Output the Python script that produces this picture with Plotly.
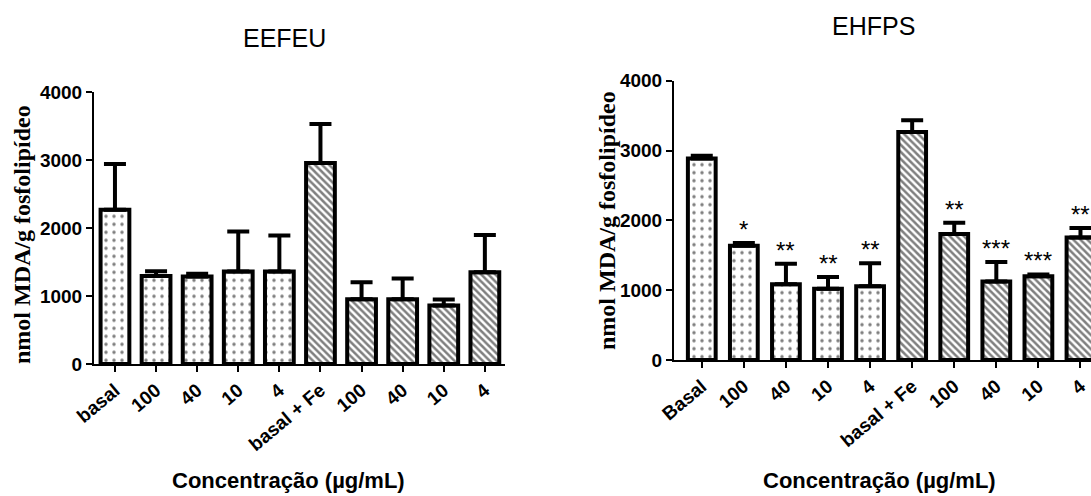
import plotly.graph_objects as go

# ---- data ----
categories_left = ["basal", "100", "40", "10", "4", "basal + Fe", "100", "40", "10", "4"]
categories_right = ["Basal", "100", "40", "10", "4", "basal + Fe", "100", "40", "10", "4"]

eefeu_mean = [2270, 1295, 1290, 1360, 1360, 2960, 955, 955, 860, 1350]
eefeu_err = [675, 70, 40, 590, 530, 575, 250, 305, 90, 550]

ehfps_mean = [2885, 1635, 1085, 1020, 1055, 3265, 1805, 1125, 1200, 1755]
ehfps_err = [40, 40, 295, 170, 330, 170, 160, 280, 25, 135]
ehfps_stars = ["", "*", "**", "**", "**", "", "**", "***", "***", "**"]

titles = ["EEFEU", "EHFPS"]
y_title = "nmol MDA/g fosfolipídeo"
x_title = "Concentração (µg/mL)"
y_ticks = [0, 1000, 2000, 3000, 4000]

W, H = 1091, 496
SANS = "Liberation Sans, Arial, sans-serif"
SERIF = "Liberation Serif, Times New Roman, serif"

fig = go.Figure()


def add_bars(means, errs, xa, ya, bw):
    n = len(means)
    idx = list(range(n))
    groups = [(idx[:5], ".", 8, 0.15), (idx[5:], "\\", 5, 0.5)]
    for ids, shape, size, sol in groups:
        fig.add_trace(go.Bar(
            x=ids, y=[means[i] for i in ids],
            width=bw,
            marker=dict(color="white",
                        line=dict(color="black", width=4),
                        pattern=dict(shape=shape, size=size, solidity=sol,
                                     fgcolor="black", bgcolor="white")),
            error_y=dict(type="data", symmetric=False,
                         array=[errs[i] for i in ids],
                         arrayminus=[0] * len(ids),
                         color="black", thickness=4, width=11),
            xaxis=xa, yaxis=ya, showlegend=False, hoverinfo="skip"))


add_bars(eefeu_mean, eefeu_err, "x", "y", 0.7)
add_bars(ehfps_mean, ehfps_err, "x2", "y2", 0.66)

for i, s in enumerate(ehfps_stars):
    if s:
        fig.add_annotation(x=i, y=ehfps_mean[i] + ehfps_err[i], xref="x2", yref="y2",
                           text=s, showarrow=False, xanchor="center", yanchor="bottom",
                           yshift=-2, font=dict(family=SANS, size=24, color="black"))

axis_common = dict(showline=True, linewidth=2, linecolor="black", ticks="outside",
                   ticklen=6, tickwidth=2, tickcolor="black", showgrid=False,
                   zeroline=False, fixedrange=True, automargin=False)

tickfont = dict(family=SANS, size=19, color="black", weight="bold")

fig.update_layout(
    width=W, height=H,
    margin=dict(l=0, r=0, t=0, b=0, pad=0, autoexpand=False),
    paper_bgcolor="white", plot_bgcolor="white",
    xaxis=dict(domain=[94 / W, 505 / W], range=[-0.51, 9.49],
               tickvals=list(range(10)), ticktext=categories_left,
               tickangle=-40, tickfont=tickfont, anchor="y", **axis_common),
    yaxis=dict(domain=[(H - 364) / H, (H - 92.3) / H], range=[0, 4000],
               tickvals=y_ticks, tickfont=tickfont, anchor="x", **axis_common),
    xaxis2=dict(domain=[674 / W, 1.0], range=[-0.66, 9.25],
                tickvals=list(range(10)), ticktext=categories_right,
                tickangle=-40, tickfont=tickfont, anchor="y2", **axis_common),
    yaxis2=dict(domain=[(H - 360) / H, (H - 80.7) / H], range=[0, 4000],
                tickvals=y_ticks, tickfont=tickfont, anchor="x2", **axis_common),
)

# titles
for xc, yc, t in [(284, 38, titles[0]), (873, 26, titles[1])]:
    fig.add_annotation(x=xc / W, y=1 - yc / H, xref="paper", yref="paper", text=t,
                       showarrow=False, xanchor="center", yanchor="middle",
                       font=dict(family=SANS, size=25, color="black"))

# y titles
for xc, yc in [(22, 235), (607, 221)]:
    fig.add_annotation(x=xc / W, y=1 - yc / H, xref="paper", yref="paper", text=y_title,
                       textangle=-90, showarrow=False, xanchor="center", yanchor="middle",
                       font=dict(family=SERIF, size=24, color="black", weight="bold"))

# x titles
for xc in [288, 879]:
    fig.add_annotation(x=xc / W, y=1 - 480 / H, xref="paper", yref="paper", text=x_title,
                       showarrow=False, xanchor="center", yanchor="middle",
                       font=dict(family=SANS, size=22, color="black", weight="bold"))

fig.write_html("out.html")
